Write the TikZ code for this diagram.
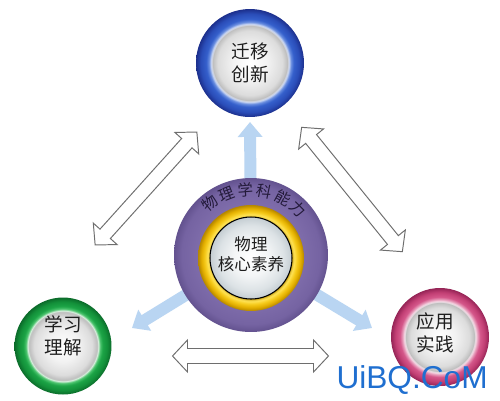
\documentclass[tikz,border=0pt]{standalone}
\usepackage{fontspec}
\newfontfamily\cjk{Noto Sans CJK SC}
\newfontfamily\wmfont{Liberation Sans}
\usetikzlibrary{arrows.meta,backgrounds,calc}
\definecolor{txt}{HTML}{1E1E1E}
\definecolor{arctxt}{HTML}{231A3A}
\definecolor{lblue}{HTML}{B9D5F2}
\definecolor{hgray}{HTML}{6E6E6E}
\definecolor{wmblue}{HTML}{1F6FD0}
\definecolor{gw0}{HTML}{FFFFFF}\definecolor{gw1}{HTML}{F2F2F2}\definecolor{gw2}{HTML}{DCDCDC}\definecolor{gw3}{HTML}{BDBDBD}
\definecolor{b0}{HTML}{DCE4F6}\definecolor{b1}{HTML}{6A8EE0}\definecolor{b2}{HTML}{3560CC}\definecolor{b3}{HTML}{2A4DB8}\definecolor{b4}{HTML}{1C2F8C}
\definecolor{g0}{HTML}{E2F3E6}\definecolor{g1}{HTML}{4CC46E}\definecolor{g2}{HTML}{1CA446}\definecolor{g3}{HTML}{13913A}\definecolor{g4}{HTML}{0B6B2A}
\definecolor{p0}{HTML}{F7E6EE}\definecolor{p1}{HTML}{E79AB9}\definecolor{p2}{HTML}{D4578A}\definecolor{p3}{HTML}{C23F74}\definecolor{p4}{HTML}{952456}
\definecolor{v0}{HTML}{8573B0}\definecolor{v1}{HTML}{7E6CAA}\definecolor{v2}{HTML}{7563A2}\definecolor{v3}{HTML}{63528F}
\definecolor{y0}{HTML}{B88C00}\definecolor{y1}{HTML}{FFE45A}\definecolor{y2}{HTML}{F6CB1C}\definecolor{y3}{HTML}{E2AE00}\definecolor{y4}{HTML}{B48600}
\definecolor{w0}{HTML}{FFFFFF}\definecolor{w1}{HTML}{F3F5F6}\definecolor{w2}{HTML}{DCE2E5}\definecolor{w3}{HTML}{C4CDD2}
\pgfdeclareradialshading{blueRing}{\pgfpoint{0bp}{0bp}}{%
 color(0bp)=(gw0); color(8bp)=(gw1); color(15bp)=(gw2); color(17.4bp)=(gw3);
 color(17.9bp)=(b0); color(19bp)=(b1); color(20.3bp)=(b2); color(22.8bp)=(b3);
 color(25bp)=(b4); color(50bp)=(b4)}
\pgfdeclareradialshading{greenRing}{\pgfpoint{0bp}{0bp}}{%
 color(0bp)=(gw0); color(8bp)=(gw1); color(15bp)=(gw2); color(17.6bp)=(gw3);
 color(18.1bp)=(g0); color(19.2bp)=(g1); color(20.5bp)=(g2); color(22.8bp)=(g3);
 color(25bp)=(g4); color(50bp)=(g4)}
\pgfdeclareradialshading{pinkRing}{\pgfpoint{0bp}{0bp}}{%
 color(0bp)=(gw0); color(8bp)=(gw1); color(15bp)=(gw2); color(17.6bp)=(gw3);
 color(18.1bp)=(p0); color(19.2bp)=(p1); color(20.5bp)=(p2); color(22.8bp)=(p3);
 color(25bp)=(p4); color(50bp)=(p4)}
\pgfdeclareradialshading{purpleDisc}{\pgfpoint{0bp}{0bp}}{%
 color(0bp)=(v0); color(17bp)=(v1); color(22.5bp)=(v2); color(25bp)=(v3); color(50bp)=(v3)}
\pgfdeclareradialshading{goldRing}{\pgfpoint{0bp}{0bp}}{%
 color(0bp)=(y0); color(19bp)=(y0); color(20.3bp)=(y1); color(21.8bp)=(y2);
 color(23.4bp)=(y3); color(25bp)=(y4); color(50bp)=(y4)}
\pgfdeclareradialshading{innerDisc}{\pgfpoint{0bp}{0bp}}{%
 color(0bp)=(w0); color(11bp)=(w1); color(20bp)=(w2); color(25bp)=(w3); color(50bp)=(w3)}
\newcommand\hollowarrow[4]{% center, angle, half length, shaft half width
 \begin{scope}[shift={(#1)}, rotate=#2]
  \draw[harrow] (-#3,0) -- (-#3+15,16) -- (-#3+15,#4) -- (#3-15,#4) -- (#3-15,16)
   -- (#3,0) -- (#3-15,-16) -- (#3-15,-#4) -- (-#3+15,-#4) -- (-#3+15,-16) -- cycle;
 \end{scope}}
\begin{document}
\begin{tikzpicture}[x=0.02cm,y=-0.02cm,
  ring/.style={circle, inner sep=0pt},
  label/.style={font=\cjk\fontsize{10.6pt}{13pt}\selectfont, text=txt, align=center, inner sep=0pt},
  arclab/.style={font=\cjk\fontsize{8.8pt}{10pt}\selectfont, text=arctxt, inner sep=0pt},
  harrow/.style={draw=hgray, fill=white, line width=0.55pt, line join=miter},
  barrow/.style={draw=lblue, line width=6.8pt, -{Triangle[width=13.6pt,length=8.5pt]}}]
\useasboundingbox (0,0) rectangle (500,400);
% outer circles
\node[ring, minimum size=2.16cm, shading=blueRing] (top) at (250,63) {};
\node[ring, minimum size=1.94cm, shading=greenRing] (left) at (63,346) {};
\node[ring, minimum size=1.96cm, shading=pinkRing] (right) at (440,337) {};
\node[label] (topT) at (250,63) {迁移\\创新};
\node[label] (leftT) at (63,336) {学习\\理解};
\node[label] (rightT) at (435,333) {应用\\实践};
% center
\node[ring, minimum size=3.08cm, shading=purpleDisc] (core) at (251,255) {};
\node[ring, minimum size=2.12cm, shading=goldRing] (gold) at (251,258) {};
\node[ring, minimum size=1.64cm, shading=innerDisc, draw=black, line width=0.6pt] (inner) at (251,258) {};
\node[label, font=\cjk\fontsize{9.4pt}{11.3pt}\selectfont] (coreT) at (251,254) {物理\\核心素养};
\coordinate (arcc) at (251,256);
\foreach \ch/\a [count=\i] in {物/128,理/111.4,学/94.8,科/78.2,能/61.6,力/45}
  \node[arclab, rotate=\a-90] (arc\i) at ($(arcc)+(-\a:66.5)$) {\ch};
% light blue arrows
\coordinate (tipT) at (250,122);
\coordinate (tipL) at (132,328);
\coordinate (tipR) at (372,328);
\begin{pgfonlayer}{background}
\fill[white] (0,0) rectangle (500,400);
\draw[barrow] (core.center) -- (tipT);
\draw[barrow] (core.center) -- (tipL);
\draw[barrow] (core.center) -- (tipR);
\end{pgfonlayer}
% hollow double arrows
\coordinate (hl) at (146,188.5);
\coordinate (hr) at (352,189.5);
\coordinate (hb) at (250.5,356);
\hollowarrow{hl}{48}{76}{7}
\hollowarrow{hr}{-51}{80}{7}
\hollowarrow{hb}{0}{78}{7.5}
% watermark
\node[anchor=base east, inner sep=0pt, text=wmblue, font=\wmfont\fontsize{18pt}{18pt}\selectfont] (wm) at (488,388) {UiBQ.CoM};
\end{tikzpicture}
\end{document}
